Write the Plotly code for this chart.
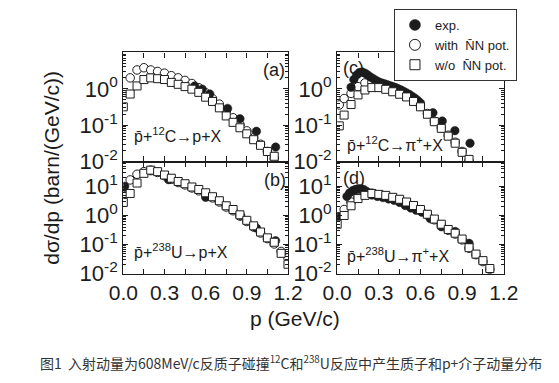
import plotly.graph_objects as go

# ---------------- data ----------------
# (a) pbar + 12C -> p + X
A_P_WITH = [0.05, 0.10, 0.15, 0.20, 0.25, 0.30, 0.35, 0.40, 0.45, 0.50, 0.55,
            0.60, 0.65, 0.70, 0.75, 0.80, 0.85, 0.90, 0.95, 1.00, 1.05, 1.10]
A_WITH = [2.0, 3.3, 3.8, 3.3, 3.0, 2.7, 2.3, 2.0, 1.7, 1.4, 1.07,
          0.78, 0.54, 0.38, 0.25, 0.16, 0.105, 0.07, 0.045, 0.03, 0.019, 0.012]
A_P_WO = [0.00, 0.05, 0.10, 0.15, 0.20, 0.25, 0.30, 0.35, 0.40, 0.45, 0.50, 0.55,
          0.60, 0.65, 0.70, 0.75, 0.80, 0.85, 0.90, 0.95, 1.00, 1.05, 1.10]
A_WO = [0.32, 0.72, 1.2, 1.8, 2.0, 1.9, 1.8, 1.5, 1.33, 1.15, 0.98, 0.80,
        0.59, 0.45, 0.30, 0.18, 0.12, 0.085, 0.058, 0.04, 0.028, 0.019, 0.014]
A_P_EXP = [0.52, 0.575, 0.63, 0.76, 0.85, 0.97, 1.11]
A_EXP = [1.2, 0.98, 0.72, 0.29, 0.15, 0.068, 0.025]

# (b) pbar + 238U -> p + X
B_P = [0.00, 0.05, 0.10, 0.15, 0.20, 0.25, 0.30, 0.35, 0.40, 0.45, 0.50, 0.55, 0.60,
       0.65, 0.70, 0.75, 0.80, 0.85, 0.90, 0.95, 1.00, 1.05, 1.10, 1.15, 1.20]
B_WITH = [9.0, 16.6, 26, 32, 36, 30, 23, 17.5, 13.5, 11.2, 8.8, 7.0, 5.4,
          4.0, 2.9, 1.95, 1.45, 0.95, 0.62, 0.40, 0.25, 0.16, 0.105, 0.058, 0.035]
B_WO = [2.8, 5.7, 13, 28, 36, 32, 24.5, 19, 14.7, 12.3, 9.5, 7.8, 6.0,
        4.4, 3.2, 2.15, 1.6, 1.05, 0.68, 0.44, 0.27, 0.17, 0.12, 0.05, 0.021]
B_P_EXP = [0.01, 0.20, 0.33, 0.60, 0.855, 0.97, 1.11]
B_EXP = [10, 34, 17, 4.2, 1.0, 0.37, 0.135]

# (c) pbar + 12C -> pi+ + X
C_P = [0.015, 0.05, 0.10, 0.15, 0.20, 0.25, 0.30, 0.35, 0.40, 0.45,
       0.50, 0.55, 0.60, 0.65, 0.70, 0.75, 0.80, 0.85, 0.90, 0.95]
C_WITH = [0.36, 0.54, 0.75, 1.15, 1.45, 1.5, 1.35, 1.15, 0.95, 0.78,
          0.64, 0.48, 0.34, 0.21, 0.13, 0.085, 0.053, 0.034, 0.019, 0.0105]
C_WO = [0.096, 0.19, 0.37, 0.68, 0.93, 1.08, 1.08, 0.97, 0.83, 0.71,
        0.60, 0.45, 0.32, 0.20, 0.125, 0.082, 0.05, 0.032, 0.018, 0.0115]
C_P_EXP = [0.10, 0.12, 0.14, 0.16, 0.18, 0.20, 0.22, 0.24, 0.26, 0.28, 0.30,
           0.32, 0.34, 0.36, 0.38, 0.40, 0.42, 0.44, 0.46, 0.48, 0.50, 0.52,
           0.54, 0.56, 0.58, 0.60, 0.69, 0.757, 0.848, 0.957]
C_EXP = [1.1, 1.8, 2.4, 2.8, 2.9, 2.7, 2.4, 2.1, 1.9, 1.7, 1.55,
         1.45, 1.37, 1.3, 1.22, 1.15, 1.08, 1.0, 0.93, 0.85, 0.77, 0.70,
         0.62, 0.55, 0.48, 0.41, 0.22, 0.13, 0.071, 0.032]

# (d) pbar + 238U -> pi+ + X
D_P = [0.00, 0.05, 0.10, 0.15, 0.20, 0.25, 0.30, 0.35, 0.40, 0.45, 0.50, 0.55,
       0.60, 0.65, 0.70, 0.75, 0.80, 0.85, 0.90, 0.95, 1.00, 1.05, 1.10]
D_WITH = [0.9, 1.6, 2.9, 4.2, 5.2, 5.8, 5.1, 4.6, 4.0, 3.4, 2.75, 2.1,
          1.5, 1.05, 0.71, 0.47, 0.31, 0.23, 0.145, 0.075, 0.045, 0.026, 0.014]
D_WO = [0.5, 1.0, 2.15, 3.8, 4.9, 5.7, 5.3, 4.9, 4.2, 3.6, 2.9, 2.2,
        1.6, 1.1, 0.75, 0.5, 0.33, 0.245, 0.155, 0.078, 0.047, 0.028, 0.015]
D_P_EXP = [0.01, 0.07, 0.09, 0.11, 0.13, 0.15, 0.17, 0.19, 0.21, 0.23, 0.25,
           0.29, 0.33, 0.37, 0.41, 0.45, 0.49, 0.53, 0.57, 0.61, 0.67, 0.75, 0.85, 0.95]
D_EXP = [0.9, 4.5, 6.0, 7.0, 7.8, 8.2, 8.3, 7.8, 6.8, 5.8, 5.0,
         4.5, 4.1, 3.7, 3.3, 2.8, 2.2, 1.8, 1.5, 1.3, 0.78, 0.41, 0.28, 0.11]

X_TICKS = [0.0, 0.3, 0.6, 0.9, 1.2]
X_TICKTEXT = ["0.0", "0.3", "0.6", "0.9", "1.2"]
Y_TICKS_TOP = [0.01, 0.1, 1]
Y_TICKTEXT_TOP = ["10<sup>-2</sup>", "10<sup>-1</sup>", "10<sup>0</sup>"]
Y_TICKS_BOT = [0.01, 0.1, 1, 10]
Y_TICKTEXT_BOT = ["10<sup>-2</sup>", "10<sup>-1</sup>", "10<sup>0</sup>", "10<sup>1</sup>"]

LEGEND_NAMES = ["exp.", "with  N\u0304N pot.", "w/o  N\u0304N pot."]
CAPTION = ("图1  入射动量为608MeV/c反质子碰撞<sup>12</sup>C和<sup>238</sup>U"
           "反应中产生质子和p+介子动量分布")

# ---------------- styling ----------------
FONT = "Liberation Sans, Arial, sans-serif"
INK = "#1c1c1c"
W, H = 559, 383

def px_x(x):
    return x / W

def px_y(y):
    return 1 - y / H

LEFT = [px_x(106), px_x(280)]
RIGHT = [px_x(332), px_x(508)]
TOP = [px_y(159), px_y(46)]
BOT = [px_y(275), px_y(159)]

fig = go.Figure()

open_circle = dict(symbol="circle", size=8.5, color="white", line=dict(color=INK, width=1))
open_square = dict(symbol="square", size=8, color="white", line=dict(color=INK, width=1))
filled = dict(symbol="circle", size=8.5, color=INK, line=dict(color=INK, width=0.5))

panels = [
    ("x", "y", A_P_WITH, A_WITH, A_P_WO, A_WO, A_P_EXP, A_EXP),
    ("x2", "y2", C_P, C_WITH, C_P, C_WO, C_P_EXP, C_EXP),
    ("x3", "y3", B_P, B_WITH, B_P, B_WO, B_P_EXP, B_EXP),
    ("x4", "y4", D_P, D_WITH, D_P, D_WO, D_P_EXP, D_EXP),
]
for xa, ya, pw, vw, po, vo, pe, ve in panels:
    fig.add_trace(go.Scatter(x=pw, y=vw, mode="markers", marker=open_circle,
                             xaxis=xa, yaxis=ya, showlegend=False))
    fig.add_trace(go.Scatter(x=pe, y=ve, mode="markers", marker=filled,
                             xaxis=xa, yaxis=ya, showlegend=False))
    fig.add_trace(go.Scatter(x=po, y=vo, mode="markers", marker=open_square,
                             xaxis=xa, yaxis=ya, showlegend=False))

# legend entries (legend-only, larger symbols as in the reference)
leg_markers = [
    dict(symbol="circle", size=11, color=INK, line=dict(color=INK, width=0.5)),
    dict(symbol="circle", size=11, color="white", line=dict(color=INK, width=1)),
    dict(symbol="square", size=10, color="white", line=dict(color=INK, width=1)),
]
for name, mk in zip(LEGEND_NAMES, leg_markers):
    fig.add_trace(go.Scatter(x=[None], y=[None], mode="markers", marker=mk,
                             name=name, xaxis="x", yaxis="y", showlegend=True))

minor_vals = []
for e in [0.01, 0.1, 1, 10]:
    for k in range(2, 10):
        minor_vals.append(k * e)

def xaxis(domain, anchor, labels):
    return dict(domain=domain, anchor=anchor, range=[0, 1.2],
                showline=True, linecolor=INK, linewidth=1.3, mirror="ticks",
                ticks="inside", ticklen=5, tickwidth=1, tickcolor=INK,
                tickmode="array", tickvals=X_TICKS, ticktext=X_TICKTEXT,
                showticklabels=labels, showgrid=False, zeroline=False,
                minor=dict(ticks="inside", ticklen=5, tickwidth=1, tickcolor=INK,
                           dtick=0.15, tick0=0, showgrid=False),
                tickfont=dict(family=FONT, size=21, color=INK))

def yaxis(domain, anchor, rng, tv, tt):
    return dict(domain=domain, anchor=anchor, type="log", range=rng,
                showline=True, linecolor=INK, linewidth=1.3, mirror="ticks",
                ticks="inside", ticklen=5, tickwidth=1, tickcolor=INK,
                tickmode="array", tickvals=tv, ticktext=tt,
                showgrid=False, zeroline=False,
                minor=dict(ticks="inside", ticklen=3, tickwidth=1, tickcolor=INK,
                           tickmode="array", tickvals=minor_vals, showgrid=False),
                tickfont=dict(family=FONT, size=22, color=INK))

fig.update_layout(
    width=W, height=H,
    margin=dict(l=0, r=0, t=0, b=0),
    paper_bgcolor="white", plot_bgcolor="white",
    font=dict(family=FONT, color=INK),
    xaxis=xaxis(LEFT, "y", False),
    yaxis=yaxis(TOP, "x", [-2, 1], Y_TICKS_TOP, Y_TICKTEXT_TOP),
    xaxis2=xaxis(RIGHT, "y2", False),
    yaxis2=yaxis(TOP, "x2", [-2, 1], Y_TICKS_TOP, Y_TICKTEXT_TOP),
    xaxis3=xaxis(LEFT, "y3", True),
    yaxis3=yaxis(BOT, "x3", [-2, 1.85], Y_TICKS_BOT, Y_TICKTEXT_BOT),
    xaxis4=xaxis(RIGHT, "y4", True),
    yaxis4=yaxis(BOT, "x4", [-2, 1.85], Y_TICKS_BOT, Y_TICKTEXT_BOT),
    showlegend=True,
    legend=dict(x=px_x(392), y=px_y(1), xanchor="left", yanchor="top",
                bgcolor="white", bordercolor="#333", borderwidth=1,
                font=dict(family=FONT, size=13, color=INK),
                itemsizing="trace", tracegroupgap=0),
)

ann = []
def add_text(x, y, text, size, xanchor="left", **kw):
    ann.append(dict(x=px_x(x), y=px_y(y), xref="paper", yref="paper", text=text,
                    showarrow=False, xanchor=xanchor, yanchor="middle",
                    font=dict(family=FONT, size=size, color=INK), **kw))

add_text(252, 64, "(a)", 18)
add_text(253, 178, "(b)", 18)
add_text(336, 62, "(c)", 18)
add_text(336, 176, "(d)", 18)
add_text(115, 131, "p\u0304+<sup>12</sup>C\u2192p+X", 16)
add_text(115, 252, "p\u0304+<sup>238</sup>U\u2192p+X", 16)
add_text(340, 141, "p\u0304+<sup>12</sup>C\u2192\u03c0<sup>+</sup>+X", 16)
add_text(340, 256, "p\u0304+<sup>238</sup>U\u2192\u03c0<sup>+</sup>+X", 16)
add_text(287, 321, "p (GeV/c)", 21, xanchor="center")
add_text(30, 165, "d\u03c3/dp (barn/(GeV/c))", 21, xanchor="center", textangle=-90)
ann.append(dict(x=px_x(283), y=px_y(367), xref="paper", yref="paper", text=CAPTION,
                showarrow=False, xanchor="center", yanchor="middle",
                font=dict(family="Noto Sans CJK SC, sans-serif", size=14, color="#333")))
fig.update_layout(annotations=ann)

fig.write_html("out.html")
